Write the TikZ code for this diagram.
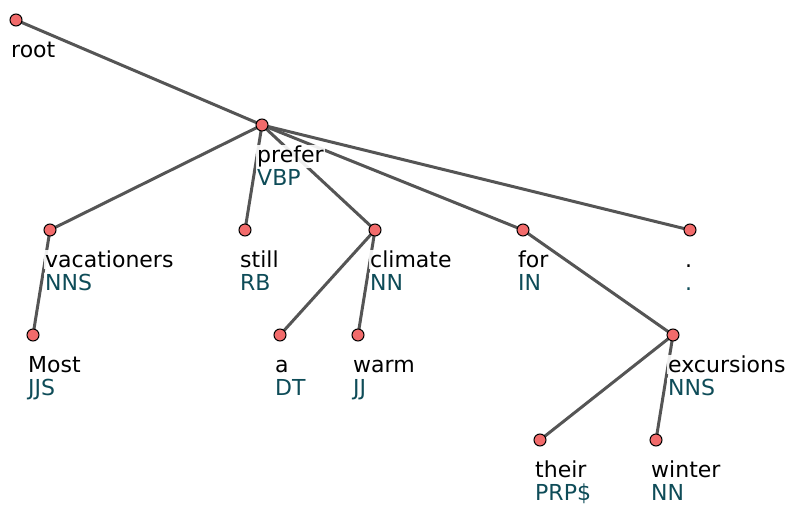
\documentclass[tikz,border=0pt]{standalone}
\usepackage{fontspec}
\setmainfont{DejaVu Sans}
\definecolor{edgegrey}{HTML}{555555}
\definecolor{tokfill}{HTML}{F26B6B}
\definecolor{tagteal}{HTML}{0E4C58}
\begin{document}
\begin{tikzpicture}[x=1pt,y=-1pt,
  tok/.style={circle,draw=black,line width=1pt,fill=tokfill,minimum size=12pt,inner sep=0pt},
  dep/.style={draw=edgegrey,line width=3pt},
  wordlbl/.style={anchor=base west,inner sep=1pt,fill=white,fill opacity=0.9,text opacity=1,font=\fontsize{22}{26}\selectfont},
  taglbl/.style={wordlbl,text=tagteal}]
\useasboundingbox (0,0) rectangle (787,505);

% token positions
\coordinate (root) at (16,20);
\coordinate (prefer) at (262,125);
\coordinate (vacationers) at (50,230);
\coordinate (still) at (245,230);
\coordinate (climate) at (375,230);
\coordinate (for) at (523,230);
\coordinate (period) at (690,230);
\coordinate (most) at (33,335);
\coordinate (a) at (280,335);
\coordinate (warm) at (358,335);
\coordinate (excursions) at (673,335);
\coordinate (their) at (540,440);
\coordinate (winter) at (656,440);

% dependency arcs
\draw[dep] (root) -- (prefer);
\draw[dep] (prefer) -- (vacationers);
\draw[dep] (prefer) -- (still);
\draw[dep] (prefer) -- (climate);
\draw[dep] (prefer) -- (for);
\draw[dep] (prefer) -- (period);
\draw[dep] (vacationers) -- (most);
\draw[dep] (climate) -- (a);
\draw[dep] (climate) -- (warm);
\draw[dep] (for) -- (excursions);
\draw[dep] (excursions) -- (their);
\draw[dep] (excursions) -- (winter);

% word and tag labels
\foreach \n/\w/\t in {root/root/,prefer/prefer/VBP,vacationers/vacationers/NNS,
    still/still/RB,climate/climate/NN,for/for/IN,period/./.,most/Most/JJS,
    a/a/DT,warm/warm/JJ,excursions/excursions/NNS,their/their/PRP\$,winter/winter/NN}{
  \node[wordlbl] (w-\n) at ([shift={(-6,37.5)}]\n) {\w};
  \ifx\t\empty\else
    \node[taglbl] (t-\n) at ([shift={(-6,60.5)}]\n) {\t};
  \fi
}

% token markers
\foreach \n in {root,prefer,vacationers,still,climate,for,period,most,a,warm,excursions,their,winter}
  \node[tok] (n-\n) at (\n) {};
\end{tikzpicture}
\end{document}
